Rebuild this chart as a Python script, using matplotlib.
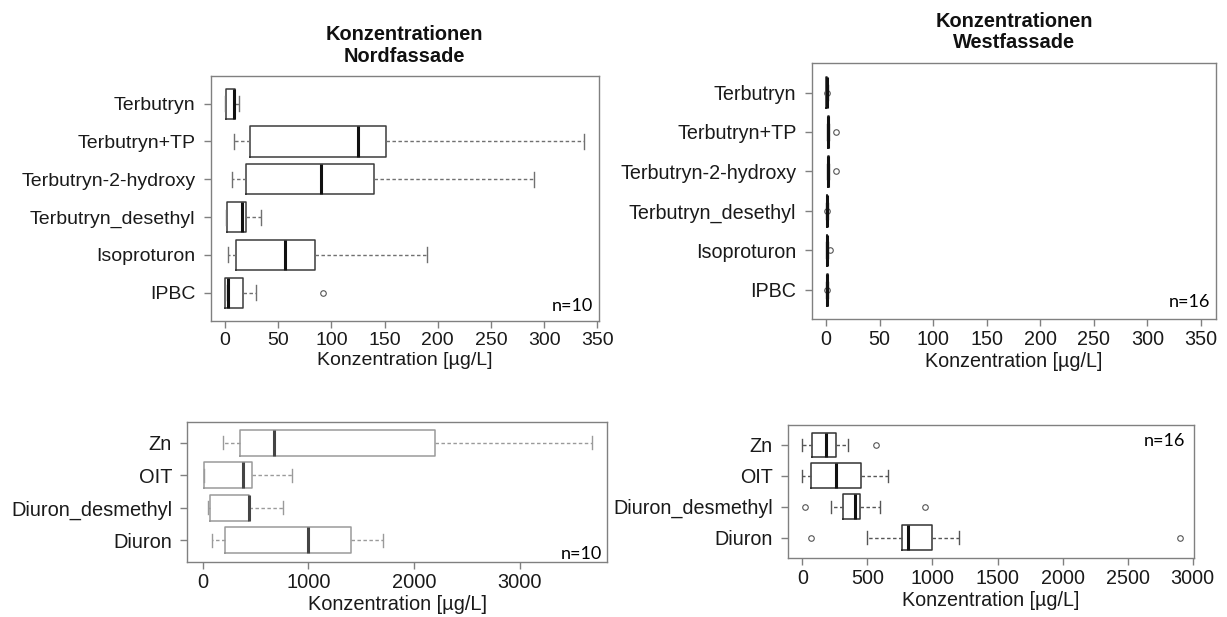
import matplotlib
matplotlib.use("Agg")
import matplotlib.pyplot as plt

# ---------------- data ----------------
top_labels = ["Terbutryn", "Terbutryn+TP", "Terbutryn-2-hydroxy",
              "Terbutryn_desethyl", "Isoproturon", "IPBC"]

north_whislo = [0.4, 8.9, 6.7, 0.7, 3.0, 0.0]
north_q1 = [1.1, 23.8, 20.0, 2.2, 10.4, 0.0]
north_med = [8.5, 124.7, 89.8, 16.0, 56.8, 3.0]
north_q3 = [9.3, 151.0, 140.0, 20.0, 84.3, 17.3]
north_whishi = [13.0, 337.8, 290.0, 33.8, 189.7, 29.2]
north_fliers = [[], [], [], [], [], [92.0]]

west_whislo = [0.0, 1.0, 1.0, 0.2, 0.2, 0.3]
west_q1 = [0.3, 1.5, 1.5, 0.5, 0.5, 0.6]
west_med = [0.6, 2.0, 2.0, 0.8, 0.9, 1.0]
west_q3 = [0.9, 2.4, 2.4, 1.1, 1.2, 1.3]
west_whishi = [1.4, 3.0, 3.0, 1.5, 1.8, 1.8]
west_fliers = [[0.6], [9.0], [9.2], [0.4], [3.4], [0.7]]

bottom_labels = ["Zn", "OIT", "Diuron_desmethyl", "Diuron"]

north2_whislo = [196, 9, 47, 88]
north2_q1 = [356, 9, 69, 208]
north2_med = [678, 379, 435, 1000]
north2_q3 = [2200, 464, 442, 1404]
north2_whishi = [3687, 842, 763, 1703]
north2_fliers = [[], [], [], []]

west2_whislo = [0, 0, 218, 497]
west2_q1 = [74, 69, 313, 769]
west2_med = [179, 262, 405, 810]
west2_q3 = [262, 451, 441, 1000]
west2_whishi = [351, 662, 597, 1203]
west2_fliers = [[569], [], [21, 946], [64, 2899]]

top_ticks = [0, 50, 100, 150, 200, 250, 300, 350]
bl_ticks = [0, 1000, 2000, 3000]
br_ticks = [0, 500, 1000, 1500, 2000, 2500, 3000]

title_north = "Konzentrationen\nNordfassade"
title_west = "Konzentrationen\nWestfassade"
xlabel = "Konzentration [µg/L]"

# ---------------- figure ----------------
W, H = 1227, 617
fig = plt.figure(figsize=(W / 100, H / 100), dpi=100)
plt.rcParams["font.family"] = ["Liberation Sans", "DejaVu Sans"]

def rect(x0, x1, ytop, ybot):
    return [x0 / W, 1 - ybot / H, (x1 - x0) / W, (ybot - ytop) / H]

def make_stats(labels, lo, q1, med, q3, hi, fl):
    return [dict(label=l, whislo=a, q1=b, med=c, q3=d, whishi=e, fliers=f)
            for l, a, b, c, d, e, f in zip(labels, lo, q1, med, q3, hi, fl)]

def panel(box, labels, stats, xlim, ticks, boxcol, whiskcol, medcol, fs):
    ax = fig.add_axes(box)
    n = len(labels)
    pos = [n - i for i in range(n)]
    ax.bxp(stats, positions=pos, widths=0.8, orientation="horizontal",
           capwidths=0.4, manage_ticks=False,
           boxprops=dict(color=boxcol, linewidth=1.1),
           whiskerprops=dict(color=whiskcol, linewidth=1.0, linestyle=(0, (2.5, 1.8))),
           capprops=dict(color=whiskcol, linewidth=1.0),
           medianprops=dict(color=medcol, linewidth=2.2),
           flierprops=dict(marker="o", markerfacecolor="none",
                           markeredgecolor="#555555", markersize=4, markeredgewidth=0.8))
    ax.set_xlim(*xlim)
    ax.set_ylim(0.5 - 0.04 * n, n + 0.5 + 0.04 * n)
    ax.set_yticks(pos)
    ax.set_yticklabels(labels)
    ax.set_xticks(ticks)
    ax.set_xticklabels([str(t) for t in ticks])
    for s in ax.spines.values():
        s.set_color("#808080")
        s.set_linewidth(1.0)
    ax.tick_params(axis="both", colors="#808080", labelcolor="#1a1a1a",
                   labelsize=fs, length=5, width=1.0)
    ax.tick_params(axis="y", pad=6)
    ax.tick_params(axis="x", pad=3)
    ax.set_xlabel(xlabel, fontsize=fs, color="#1a1a1a", labelpad=2)
    return ax

ax1 = panel(rect(210.7, 598.6, 75.7, 320.7), top_labels,
            make_stats(top_labels, north_whislo, north_q1, north_med, north_q3,
                       north_whishi, north_fliers),
            (-13.4, 351.1), top_ticks, "#3c3c3c", "#707070", "#111111", 14)
ax2 = panel(rect(811.7, 1216, 63.3, 319), top_labels,
            make_stats(top_labels, west_whislo, west_q1, west_med, west_q3,
                       west_whishi, west_fliers),
            (-13.5, 364), top_ticks, "#222222", "#555555", "#111111", 14.2)
ax3 = panel(rect(187.3, 607, 421.5, 561.7), bottom_labels,
            make_stats(bottom_labels, north2_whislo, north2_q1, north2_med, north2_q3,
                       north2_whishi, north2_fliers),
            (-146, 3825), bl_ticks, "#9a9a9a", "#9a9a9a", "#444444", 14.4)
ax4 = panel(rect(788, 1194.3, 424.5, 558), bottom_labels,
            make_stats(bottom_labels, west2_whislo, west2_q1, west2_med, west2_q3,
                       west2_whishi, west2_fliers),
            (-110, 3012), br_ticks, "#333333", "#555555", "#111111", 14.2)

# titles
fig.text(404.7 / W, 1 - 45.8 / H, title_north, ha="center", va="center",
         fontsize=14.4, fontweight="bold", linespacing=1.2, color="#111111")
fig.text(1013.9 / W, 1 - 32.3 / H, title_west, ha="center", va="center",
         fontsize=14.4, fontweight="bold", linespacing=1.15, color="#111111")

# sample sizes
nfont = ["Lato", "DejaVu Sans"]
fig.text(593 / W, 1 - 306 / H, "n=10", ha="right", va="center", fontsize=13, family=nfont)
fig.text(1210 / W, 1 - 302 / H, "n=16", ha="right", va="center", fontsize=13, family=nfont)
fig.text(602 / W, 1 - 554 / H, "n=10", ha="right", va="center", fontsize=13, family=nfont)
fig.text(1185 / W, 1 - 441 / H, "n=16", ha="right", va="center", fontsize=13, family=nfont)

fig.savefig("out.png", dpi=100)
